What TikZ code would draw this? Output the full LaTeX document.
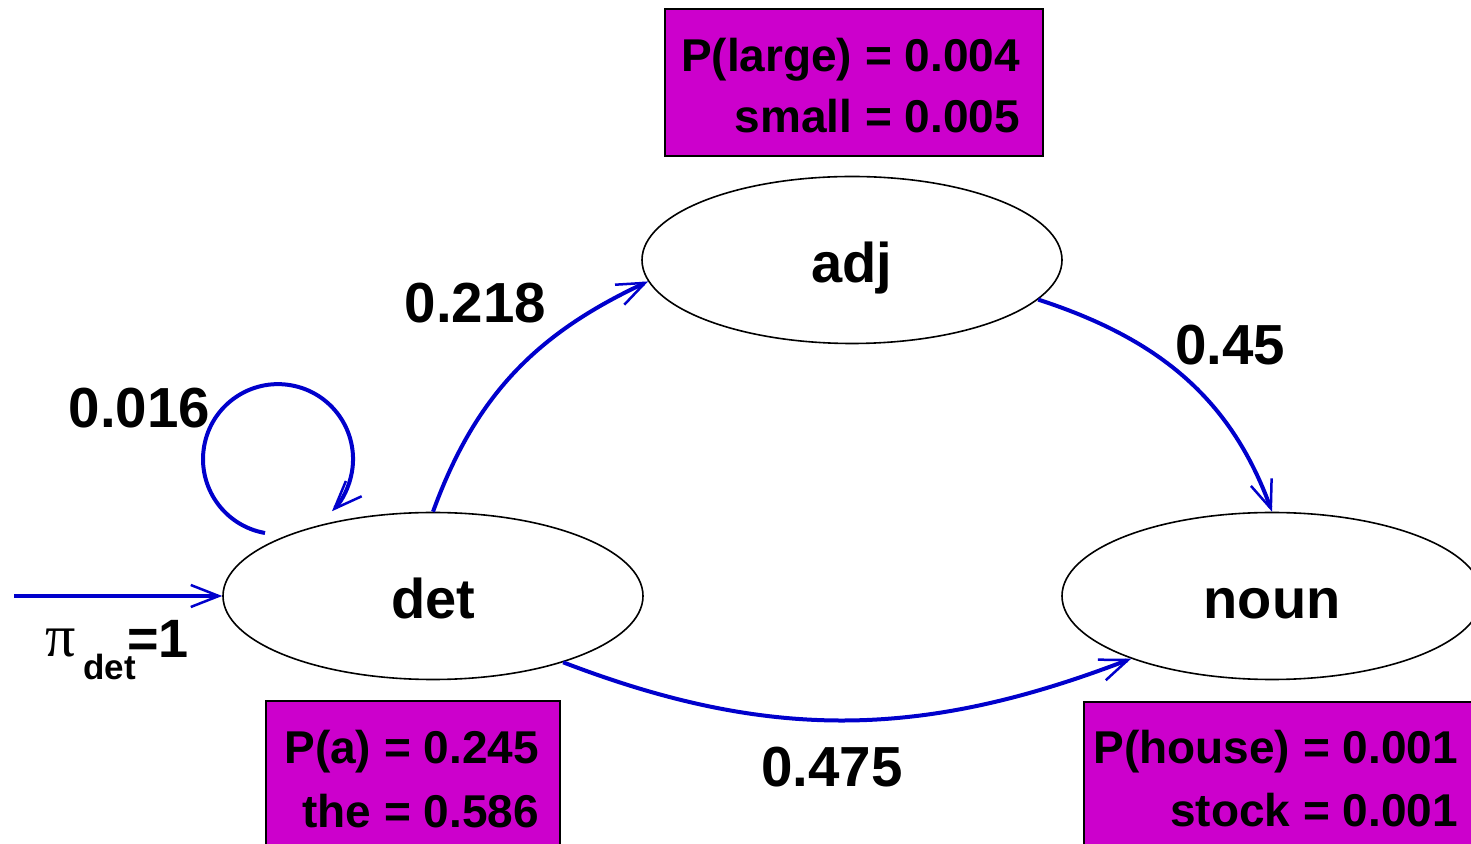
\documentclass[tikz,border=0pt]{standalone}
\usepackage{fontspec}
\setmainfont{Liberation Sans}
\newfontfamily\greekfont{Liberation Serif}
\usetikzlibrary{shapes.geometric,arrows.meta}
\definecolor{edgeblue}{RGB}{0,0,204}
\definecolor{emitfill}{RGB}{204,0,204}

\begin{document}
\begin{tikzpicture}[x=1pt,y=1pt,
  state/.style={ellipse, draw=black, line width=1.6pt, minimum width=420pt,
    minimum height=167pt, inner sep=0pt,
    font=\fontsize{56}{60}\selectfont\bfseries, text height=50pt, text depth=4pt},
  flow/.style={draw=edgeblue, line width=4pt,
    -{Straight Barb[length=28pt,width=22pt,line width=2.5pt]}},
  emitbox/.style={rectangle, draw=black, line width=2pt, fill=emitfill,
    inner sep=0pt, anchor=north west},
  emittext/.style={font=\fontsize{46}{60}\selectfont\bfseries,
    anchor=base east, inner sep=0pt},
  weight/.style={font=\fontsize{56.5}{60}\selectfont\bfseries, anchor=base, inner sep=0pt}]
\clip (0,0) rectangle (1471,843);
\fill[white] (0,0) rectangle (1471,843);

% emission boxes
\node[emitbox, minimum width=378pt, minimum height=147pt] (adjbox) at (664,835) {};
\node[emitbox, minimum width=294pt, minimum height=160pt] (detbox) at (265,143) {};
\node[emitbox, minimum width=420pt, minimum height=160pt] (nounbox) at (1083,142) {};

\node[emittext] (adjp1) at (1020,771) {P(large) = 0.004};
\node[emittext] (adjp2) at (1020,710) {small = 0.005};
\node[emittext] (detp1) at (539,80) {P(a) = 0.245};
\node[emittext] (detp2) at (539,16) {the = 0.586};
\node[emittext] (nounp1) at (1458,80) {P(house) = 0.001};
\node[emittext] (nounp2) at (1458,17) {stock = 0.001};

% states
\node[state] (det) at (433,247) {det};
\node[state] (adj) at (852,583) {adj};
\node[state] (noun) at (1272,247) {noun};

% transitions
\coordinate (init) at (14,247);
\draw[flow] (init) -- (det.west);
\draw[flow] (det.north) to[out=70,in=205] (adj.186);
\draw[flow] (adj.348) to[out=-18,in=110] (noun.north);
\draw[flow] (det.333) to[out=-21,in=201] (noun.204);
\coordinate (loopstart) at (265,310);
\draw[flow] (loopstart) arc[start angle=260,end angle=-44,radius=75];

% transition weights
\node[weight] (w1) at (475.5,520) {0.218};
\node[weight] (w2) at (1230,478) {0.45};
\node[weight] (w3) at (139.5,415) {0.016};
\node[weight] (w4) at (832,57) {0.475};

% initial probability
\node[anchor=base west, inner sep=0pt, font=\greekfont\fontsize{60}{60}\selectfont] (pisym) at (45,186) {π};
\node[anchor=base west, inner sep=0pt, font=\fontsize{35}{35}\selectfont\bfseries] (pisub) at (83,163) {det};
\node[anchor=base west, inner sep=0pt, font=\fontsize{54}{54}\selectfont\bfseries] (pival) at (127,185) {=1};
\end{tikzpicture}
\end{document}
